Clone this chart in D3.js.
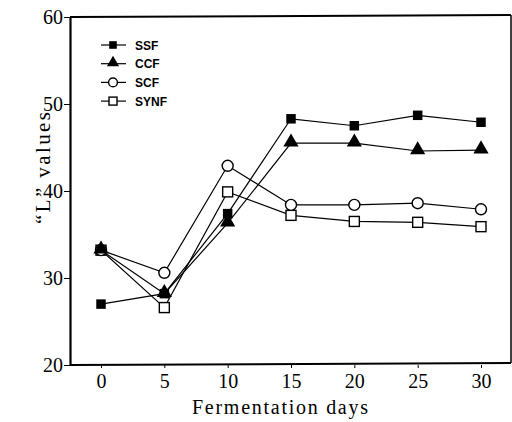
<!DOCTYPE html>
<html>
<head>
<meta charset="utf-8">
<script src="https://cdn.jsdelivr.net/npm/d3@7"></script>
<style>
body{margin:0;background:#fff;}
text{fill:#000;}
</style>
</head>
<body>
<div id="chart"></div>
<script>
// fermentation days and "L" values
var days=[0,5,10,15,20,25,30];
var ssf=[27.0,28.2,37.4,48.3,47.5,48.7,47.9];
var ccf=[33.2,28.2,36.3,45.5,45.5,44.6,44.7];
var scf=[33.2,30.6,42.9,38.4,38.4,38.6,37.9];
var synf=[33.2,26.6,39.9,37.2,36.5,36.4,35.9];
var names=['SSF','CCF','SCF','SYNF'];
var yTicks=[20,30,40,50,60];

var serif='Liberation Serif';
var svg=d3.select('#chart').append('svg').attr('width',512).attr('height',422);
var x=d3.scaleLinear().domain([0,30]).range([101,481]);
var y=d3.scaleLinear().domain([20,60]).range([365,17]);

// frame
svg.append('line').attr('x1',70).attr('y1',17).attr('x2',511).attr('y2',15).attr('stroke','#000').attr('stroke-width',2);
svg.append('line').attr('x1',70).attr('y1',365).attr('x2',511).attr('y2',363).attr('stroke','#000').attr('stroke-width',2);
svg.append('line').attr('x1',511).attr('y1',15).attr('x2',511).attr('y2',363).attr('stroke','#000').attr('stroke-width',1.5);

var ya=svg.append('g').attr('transform','translate(70,0)')
  .call(d3.axisLeft(y).tickValues(yTicks).tickSize(6).tickSizeOuter(0).tickPadding(1).tickFormat(d3.format('d')));
ya.attr('font-family',serif).attr('font-size',20);
ya.select('.domain').attr('stroke-width',2.2);
var xa=svg.append('g').attr('transform','translate(0,365)')
  .call(d3.axisBottom(x).tickValues(days).tickSize(3).tickPadding(6).tickSizeOuter(0).tickFormat(d3.format('d')));
xa.attr('font-family',serif).attr('font-size',20);
xa.select('.domain').remove();

svg.append('text').attr('x',280).attr('y',414).attr('text-anchor','middle')
  .attr('font-family',serif).attr('font-size',20).attr('textLength',176).text('Fermentation  days');
svg.append('text').attr('transform','translate(50,168) rotate(-90)').attr('text-anchor','middle')
  .attr('font-family',serif).attr('font-size',21).attr('textLength',112).text('\u201cL\u201d  values');

var series=[ssf,ccf,scf,synf];
var line=d3.line().x(function(d,i){return x(days[i]);}).y(function(d){return y(d);});
var sq=d3.symbol().type(d3.symbolSquare).size(90);
var tri=d3.symbol().type(d3.symbolTriangle).size(100);

function marker(g,k,cx,cy,sc){
  sc=sc||1;
  if(k==0) g.append('path').attr('d',sq()).attr('transform','translate('+cx+','+cy+') scale('+sc+')').attr('fill','#000');
  if(k==1) g.append('path').attr('d',tri()).attr('transform','translate('+cx+','+(cy-1)+') scale('+sc+')').attr('fill','#000');
  if(k==2) g.append('circle').attr('cx',cx).attr('cy',cy).attr('r',5.5*sc).attr('fill','#fff').attr('stroke','#000').attr('stroke-width',1.4);
  if(k==3) g.append('rect').attr('x',cx-5*sc).attr('y',cy-5*sc).attr('width',10*sc).attr('height',10*sc).attr('fill','#fff').attr('stroke','#000').attr('stroke-width',1.4);
}

// lines first, then markers
series.forEach(function(s){
  svg.append('path').attr('d',line(s)).attr('fill','none').attr('stroke','#000').attr('stroke-width',1.2);
});
[3,2,0,1].forEach(function(k){
  var g=svg.append('g');
  series[k].forEach(function(v,i){ marker(g,k,x(days[i]),y(v)); });
});

// legend
var lg=svg.append('g');
names.forEach(function(n,k){
  var ly=45+k*18.7;
  lg.append('line').attr('x1',101).attr('x2',126).attr('y1',ly).attr('y2',ly).attr('stroke','#000').attr('stroke-width',1.2);
  marker(lg,k,113,ly,0.8);
  lg.append('text').attr('x',135).attr('y',ly+4.5)
    .attr('font-family','Liberation Sans').attr('font-size',12).attr('font-weight','bold').text(n);
});
</script>
</body>
</html>
